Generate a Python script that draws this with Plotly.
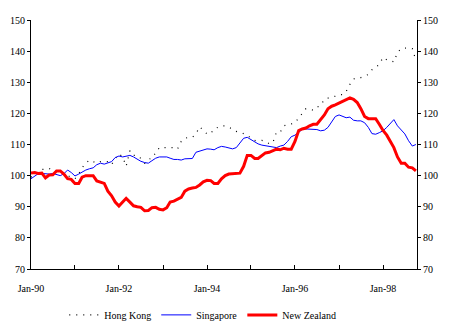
import pandas as pd
import plotly.graph_objects as go

months = pd.date_range("1990-01-01", periods=106, freq="MS")

hong_kong = [99.5, 100.5, 101, 102, 102, 102.3, 101.5, 101.2, 101, 100.5,
             100, 99.5, 99, 100.5, 102.5, 104, 105, 104.5, 104, 104.5,
             104.5, 104.5, 103.5, 105.5, 107, 106, 103, 108, 106.5, 106.5,
             105.5, 104, 104.5, 106.5, 107, 109, 109, 109, 109.2, 109,
             108.5, 111, 112, 112.3, 112.3, 113.4, 115.7, 114.5, 113.4, 113.5,
             115, 115.5, 116, 116, 115.5, 115, 114.2, 114, 113.5, 113,
             112, 111.3, 111.2, 111.3, 111, 110.3, 110.5, 114, 114, 116,
             116.5, 116.6, 117, 118.5, 120, 121.5, 121.5, 121, 122, 122.5,
             124.5, 125, 125.3, 125.5, 126, 126, 127, 129.3, 131, 131.5,
             131.5, 132, 132.5, 134, 135, 135.7, 138, 137.2, 137, 136.5,
             139.6, 140.8, 141, 141, 140.8, 137]

singapore = [99, 99.8, 100.6, 100.7, 100.5, 100.5, 100.7, 100.3, 100, 100.6,
             101.8, 101, 99.9, 100.5, 101.2, 101.8, 102.2, 102.5, 103.5, 104,
             103.7, 104, 104.5, 105.8, 106.3, 106, 106.2, 106.5, 106, 105.3,
             104.6, 104.2, 104, 104.8, 105.6, 106, 106, 106, 105.6, 105.2,
             105.2, 105, 105.4, 105.4, 105.5, 107.5, 107.8, 108.2, 108.6, 108.5,
             108.3, 109, 109.4, 109.2, 108.8, 108.6, 109, 110.5, 112, 112.3,
             111.5, 110.7, 110.2, 109.8, 109.6, 109.4, 109.4, 109, 109.5, 109.8,
             111, 112.5, 113, 114, 114.8, 115, 115, 115, 114.8, 114.4,
             114.6, 115.5, 117.5, 119, 119.5, 119, 118.6, 118.8, 117.8, 117.6,
             117.6, 117, 115.5, 113.5, 113.3, 113.8, 114.4, 115.5, 116.8, 118,
             116, 114.5, 113.4, 111.2, 109.5, 110]

new_zealand = [100.8, 101, 100.7, 100.8, 99.3, 100.2, 100.3, 101.5, 101.5, 100.5,
               99, 98.8, 97.5, 97.5, 99.5, 100, 100, 100, 98.3, 98,
               97.5, 95, 93.5, 91.5, 90.2, 91.5, 92.7, 91.5, 90.3, 90,
               89.8, 88.7, 88.8, 89.7, 89.8, 89.2, 89, 89.7, 91.5, 91.8,
               92.5, 93, 95, 95.7, 96, 96.2, 97, 98, 98.5, 98.4,
               97.5, 97.5, 99, 100, 100.5, 100.6, 100.6, 100.8, 103, 106.5,
               106.5, 105.5, 105.5, 106.5, 107.3, 107.5, 108, 108.5, 108.3, 108.8,
               108.5, 108.5, 111, 114.5, 115, 115.3, 116, 116.5, 116.5, 118,
               119.5, 121.5, 122.3, 122.7, 123.3, 123.8, 124.5, 125, 124.5, 123.5,
               121.5, 119, 118.3, 118.3, 118.3, 116.5, 114.5, 113, 111, 109,
               106, 104, 104, 102.7, 102.5, 101.5]

year_ticks = [f"{y}-01-01" for y in range(1990, 1999)]
year_labels = ["Jan-90", "", "Jan-92", "", "Jan-94", "", "Jan-96", "", "Jan-98"]
y_ticks = [70, 80, 90, 100, 110, 120, 130, 140, 150]

font = dict(family="Liberation Serif, Times New Roman, serif", size=10, color="black")

fig = go.Figure()
fig.add_trace(go.Scatter(x=months, y=hong_kong, name="Hong Kong", mode="lines",
                         line=dict(color="black", width=1.2, dash="1px,6px")))
fig.add_trace(go.Scatter(x=months, y=singapore, name="Singapore", mode="lines",
                         line=dict(color="#0000FF", width=1)))
fig.add_trace(go.Scatter(x=months, y=new_zealand, name="New Zealand", mode="lines",
                         line=dict(color="#FF0000", width=3)))
fig.add_trace(go.Scatter(x=months, y=singapore, yaxis="y2", showlegend=False,
                         hoverinfo="skip", line=dict(color="rgba(0,0,0,0)")))

x_end = "1998-10-10"
fig.update_layout(
    width=450, height=328,
    margin=dict(l=31, r=33, t=20, b=59, autoexpand=False),
    paper_bgcolor="white", plot_bgcolor="white",
    font=font,
    showlegend=True,
    legend=dict(orientation="h", x=0.445, xanchor="center",
                yref="container", y=0.04, yanchor="middle",
                font=font, itemwidth=30, bgcolor="rgba(0,0,0,0)"),
    xaxis=dict(range=["1990-01-01", x_end], tickvals=year_ticks, ticktext=year_labels,
               ticks="inside", ticklen=4, tickcolor="black", showline=True,
               linecolor="black", linewidth=1, showgrid=False, zeroline=False,
               ticklabelstandoff=10),
    yaxis=dict(range=[70, 150], tickvals=y_ticks, ticks="outside", ticklen=3,
               tickcolor="black", showline=True, linecolor="black", linewidth=1,
               showgrid=False, zeroline=False),
    yaxis2=dict(range=[70, 150], tickvals=y_ticks, overlaying="y", side="right",
                ticks="outside", ticklen=3, tickcolor="black", showline=True,
                linecolor="black", linewidth=1, showgrid=False, zeroline=False),
)

fig.write_html("out.html")
